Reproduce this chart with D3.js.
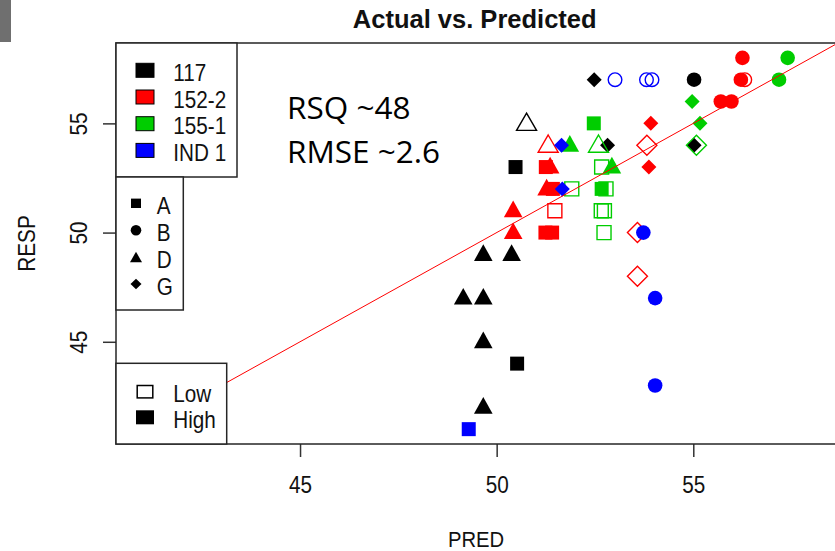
<!DOCTYPE html>
<html><head><meta charset="utf-8">
<script src="https://cdn.jsdelivr.net/npm/d3@7"></script>
<style>body{margin:0;background:#fff} svg{display:block}</style>
</head><body><svg id="c" width="835" height="551"></svg>
<script>
// ---- data ----
const PRED = [55.02,52.48,50.76,52.82,55.02,50.48,49.66,50.38,49.15,49.66,49.66,50.52,49.66,
  56.25,56.21,56.31,55.70,55.97,53.92,51.31,53.82,51.25,51.36,53.87,51.27,51.43,50.42,51.48,50.42,51.24,51.41,53.58,53.58,
  57.40,57.18,54.97,52.47,55.17,51.86,52.59,55.08,52.67,52.93,51.91,52.67,52.78,52.66,52.74,52.73,
  53.01,53.81,53.95,51.65,51.67,53.73,54.03,54.03,49.29];
const RESP = [57,57,55,54,54,53,49,49,47,47,45,44,42,
  58,57,57,56,56,55,54,54,53,53,53,52,52,51,51,50,50,50,50,48,
  58,57,56,55,55,54,54,54,53,53,52,52,52,51,51,50,
  57,57,57,54,52,50,47,43,41];
const VARIETY = [].concat(Array(13).fill("117"), Array(20).fill("152-2"), Array(16).fill("155-1"), Array(9).fill("IND 1"));
const TRT = ["B","G","D","G","G","A","D","D","D","D","D","A","D",
  "B","B","B","B","B","G","D","G","A","D","G","D","A","D","A","D","A","A","G","G",
  "B","B","G","A","G","D","D","G","A","D","A","A","A","A","A","A",
  "B","B","B","G","G","B","B","B","A"];
const LEVEL = ["High","High","Low","High","High","High","High","High","High","High","High","High","High",
  "High","High","Low","High","High","High","Low","Low","High","High","High","High","High","High","Low","High","High","High","Low","Low",
  "High","High","High","High","High","High","Low","Low","Low","High","Low","High","Low","Low","Low","Low",
  "Low","Low","Low","High","High","High","High","High","High"];
const VARIETIES = ["117","152-2","155-1","IND 1"];
const COLORS = ["#000000","#FF0000","#00CD00","#0000FF"];
const TRTS = ["A","B","D","G"];
const LEVELS = ["Low","High"];
const X_TICKS = [45,50,55];
const Y_TICKS = [45,50,55];
const LIM = [40.32, 58.68];

// ---- setup ----
const svg = d3.select("#c");
const L = 116, T = 43, R = 838, B = 444;
const x = d3.scaleLinear().domain(LIM).range([L, R]);
const y = d3.scaleLinear().domain(LIM).range([B, T]);
const color = d3.scaleOrdinal().domain(VARIETIES).range(COLORS);
const FONT = "'Liberation Sans', Arial, sans-serif";

svg.append("rect").attr("x",0).attr("y",0).attr("width",11).attr("height",42).attr("fill","#6f6f6f");

function circ(r){ return `M${r},0A${r},${r} 0 1 1 ${-r},0A${r},${r} 0 1 1 ${r},0Z`; }
function symPath(trt, lev){
  const filled = lev === "High";
  if (trt === "A") { const h = 7; return `M${-h},${-h}H${h}V${h}H${-h}Z`; }
  if (trt === "B") return filled ? circ(7.3) : circ(6.8);
  if (trt === "D") return filled ? "M0,-10.2L9.3,6.5L-9.3,6.5Z" : "M0,-10.2L10,7L-10,7Z";
  if (trt === "G") { const h = filled ? 7.5 : 10; return `M0,${-h}L${h},0L0,${h}L${-h},0Z`; }
}

svg.append("clipPath").attr("id","clip").append("rect")
  .attr("x",L).attr("y",T).attr("width",R-L).attr("height",B-T);

const plot = svg.append("g").attr("clip-path","url(#clip)");
const idx = d3.range(PRED.length);
plot.selectAll("path.pt").data(idx).join("path")
  .attr("class","pt")
  .attr("transform", i => `translate(${x(PRED[i])},${y(RESP[i])})`)
  .attr("d", i => symPath(TRT[i], LEVEL[i]))
  .attr("fill", i => LEVEL[i] === "High" ? color(VARIETY[i]) : "none")
  .attr("stroke", i => LEVEL[i] === "High" ? "none" : color(VARIETY[i]))
  .attr("stroke-width", 1.4);

// reference line y = x
plot.append("line")
  .attr("x1", x(LIM[0])).attr("y1", y(LIM[0]))
  .attr("x2", x(LIM[1])).attr("y2", y(LIM[1]))
  .attr("stroke","#FF0000").attr("stroke-width",1);

// axes
const xAxis = svg.append("g").attr("transform",`translate(0,${B})`)
  .call(d3.axisBottom(x).tickValues(X_TICKS).tickSize(13).tickFormat(d3.format("d")));
xAxis.select(".domain").remove();
xAxis.selectAll(".tick line").attr("stroke","#333").attr("stroke-width",1.5);
xAxis.selectAll(".tick text").attr("y",49.3).attr("dy",null)
  .attr("font-family",FONT).attr("font-size",23).attr("fill","#111")
  .attr("transform","scale(0.9,1)");

const yAxis = svg.append("g").attr("transform",`translate(${L},0)`)
  .call(d3.axisLeft(y).tickValues(Y_TICKS).tickSize(13).tickFormat(d3.format("d")));
yAxis.select(".domain").remove();
yAxis.selectAll(".tick line").attr("stroke","#333").attr("stroke-width",1.5);
yAxis.selectAll(".tick text").attr("x",0).attr("y",-28.7).attr("dy",null)
  .attr("text-anchor","middle")
  .attr("font-family",FONT).attr("font-size",23).attr("fill","#111")
  .attr("transform","rotate(-90) scale(0.9,1)");

// plot box
svg.append("rect").attr("x",L).attr("y",T).attr("width",R-L).attr("height",B-T)
  .attr("fill","none").attr("stroke","#262626").attr("stroke-width",1.5);

function txt(g, tx, ty, s, o = {}){
  return g.append("text").attr("transform",`translate(${tx},${ty}) scale(${o.sx||0.9},1)`)
    .attr("text-anchor", o.anchor || "start")
    .attr("font-family", o.font || FONT).attr("font-size", o.size || 23)
    .attr("font-weight", o.weight || "normal").attr("fill", o.fill || "#111").text(s);
}

// titles
txt(svg, 474.7, 28.3, "Actual vs. Predicted", {anchor:"middle", weight:"bold", size:25.5, sx:1});
txt(svg, 476, 546.5, "PRED", {anchor:"middle", size:22.5});
svg.append("text").attr("transform","translate(35,243.5) rotate(-90) scale(0.9,1)")
  .attr("text-anchor","middle").attr("font-family",FONT).attr("font-size",23).attr("fill","#111").text("RESP");

// legend 1: varieties
const lg1 = svg.append("g");
lg1.append("rect").attr("x",L).attr("y",T).attr("width",121).attr("height",134)
  .attr("fill","#fff").attr("stroke","#262626").attr("stroke-width",1.5);
VARIETIES.forEach((v,i) => {
  const cy = 70.3 + i*26.7;
  lg1.append("rect").attr("x",136).attr("y",cy-7).attr("width",18).attr("height",14)
    .attr("fill",color(v)).attr("stroke","#000").attr("stroke-width",1);
  txt(lg1, 173.3, cy+10.7, v);
});

// legend 2: treatments
const lg2 = svg.append("g");
lg2.append("rect").attr("x",L).attr("y",177).attr("width",67.3).attr("height",133)
  .attr("fill","#fff").attr("stroke","#262626").attr("stroke-width",1.5);
const smallSym = {A:"M-5,-4.7H5V4.7H-5Z", B:circ(5.3), D:"M0,-6.8L6,3.6L-6,3.6Z", G:"M0,-5.3L5.5,0L0,5.3L-5.5,0Z"};
TRTS.forEach((t,i) => {
  const cy = 203.3 + i*26.9;
  lg2.append("path").attr("transform",`translate(136,${cy + (t==="D"?1.5:0)})`).attr("d",smallSym[t]).attr("fill","#000");
  txt(lg2, 156.7, cy+11, t);
});

// legend 3: levels
const lg3 = svg.append("g");
lg3.append("rect").attr("x",L).attr("y",363.3).attr("width",110.7).attr("height",B-363.3)
  .attr("fill","#fff").attr("stroke","#262626").attr("stroke-width",1.5);
LEVELS.forEach((lv,i) => {
  const cy = 391.7 + i*25.6;
  if (lv === "Low")
    lg3.append("rect").attr("x",137.2).attr("y",cy-6.2).attr("width",15.6).attr("height",12.4)
      .attr("fill","none").attr("stroke","#000").attr("stroke-width",1.5);
  else
    lg3.append("rect").attr("x",136).attr("y",cy-7).attr("width",18).attr("height",14).attr("fill","#000");
  txt(lg3, 173.3, cy+10.6, lv);
});

// annotation
const ann = svg.append("g");
txt(ann, 287, 119.3, "RSQ ~48", {font:"'Open Sans', sans-serif", size:31.5, sx:1, fill:"#000"});
txt(ann, 287, 163, "RMSE ~2.6", {font:"'Open Sans', sans-serif", size:31.5, sx:1, fill:"#000"});
</script></body></html>
